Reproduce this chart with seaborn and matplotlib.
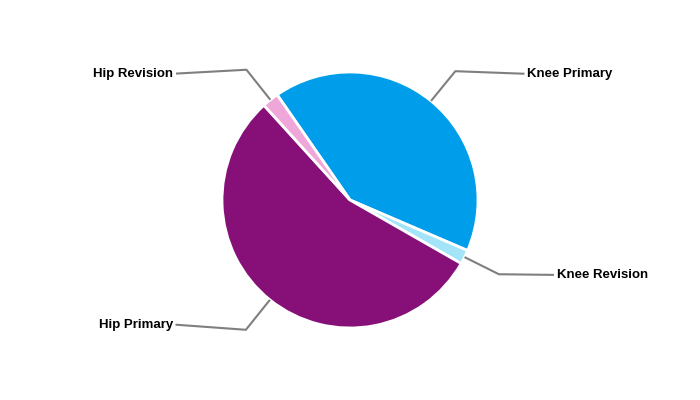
import numpy as np
import matplotlib
matplotlib.use("Agg")
import matplotlib.pyplot as plt
import seaborn as sns

categories = ["Knee Primary", "Knee Revision", "Hip Primary", "Hip Revision"]
values = [41.1, 1.8, 55.0, 2.1]
colors = ["#009DEA", "#A3E4F9", "#860F78", "#EFA6D9"]

sns.set_theme(style="white")
plt.rcParams['font.family'] = ['Liberation Sans', 'DejaVu Sans']

W, H = 7.0, 4.0
fig = plt.figure(figsize=(W, H), dpi=100)
ax = fig.add_axes([0, 0, 1, 1])
R = 128.0  # px radius
cx, cy = 350.0, 200.0  # center from bottom-left in px

wedges, _ = ax.pie(values, colors=colors, startangle=124.7, counterclock=False,
                   radius=1.0, wedgeprops=dict(edgecolor="white", linewidth=2))

ax.set_xlim(-cx / R, (700 - cx) / R)
ax.set_ylim(-cy / R, (400 - cy) / R)
ax.set_aspect("equal")
ax.axis("off")

# leader-line layout (horizontal segment length in radius units, small vertical shift)
hlen = [0.54, 0.43, 0.55, 0.55]
dys = [-0.02, -0.005, 0.04, -0.03]
for w, lab, hl, dy in zip(wedges, categories, hlen, dys):
    ang = np.deg2rad((w.theta1 + w.theta2) / 2)
    x0, y0 = np.cos(ang), np.sin(ang)
    ex, ey = 1.3 * x0, 1.3 * y0
    s = 1 if x0 >= 0 else -1
    tx, ty = ex + s * hl, ey + dy
    ax.plot([x0, ex, tx], [y0, ey, ty], color="#7F7F7F", lw=1.5, solid_capstyle="butt")
    ax.text(tx + s * 0.02, ty, lab, ha="left" if s > 0 else "right", va="center",
            fontsize=9.5, fontweight="bold", color="black")

fig.savefig("out.png", dpi=100)
